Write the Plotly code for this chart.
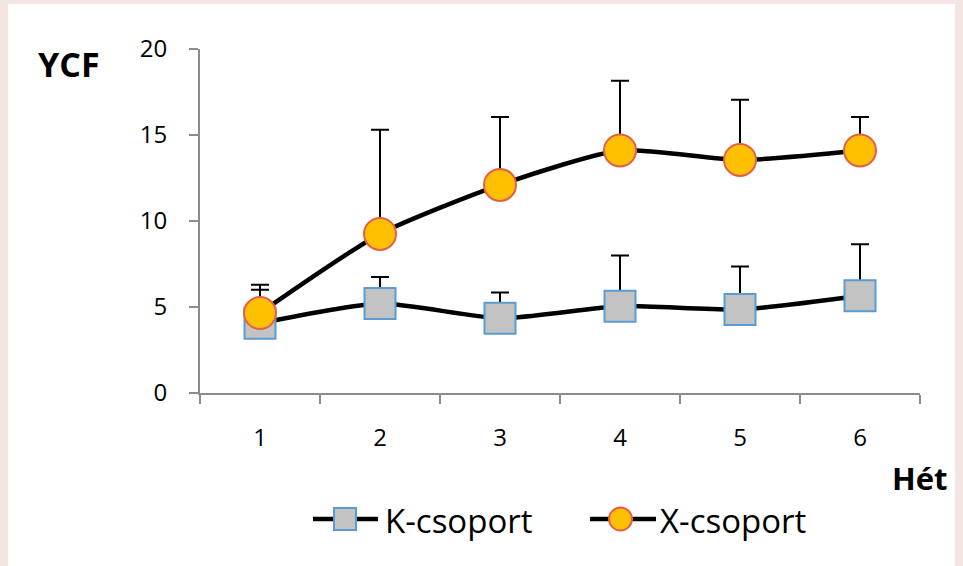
import plotly.graph_objects as go

weeks = ["1", "2", "3", "4", "5", "6"]
k_values = [4.05, 5.2, 4.35, 5.05, 4.85, 5.65]
k_err_up = [1.95, 1.55, 1.5, 2.95, 2.5, 3.0]
x_values = [4.65, 9.25, 12.1, 14.1, 13.55, 14.1]
x_err_up = [1.65, 6.05, 3.95, 4.05, 3.5, 1.95]
y_ticks = [0, 5, 10, 15, 20]
series_names = ["K-csoport", "X-csoport"]

FONT = "Open Sans"
K_FILL, K_EDGE = "#C3C3C3", "#5B9BD5"
X_FILL, X_EDGE = "#FFC000", "#E2604A"

fig = go.Figure()
fig.add_trace(go.Scatter(
    x=weeks, y=k_values, name=series_names[0], mode="lines+markers",
    line=dict(color="black", width=4.5, shape="spline", smoothing=0.6),
    marker=dict(symbol="square", size=31, color=K_FILL,
                line=dict(color=K_EDGE, width=2)),
    error_y=dict(type="data", array=k_err_up, arrayminus=[0]*6, symmetric=False,
                 color="black", thickness=2, width=9),
))
fig.add_trace(go.Scatter(
    x=weeks, y=x_values, name=series_names[1], mode="lines+markers",
    line=dict(color="black", width=4.5, shape="spline", smoothing=0.6),
    marker=dict(symbol="circle", size=32, color=X_FILL,
                line=dict(color=X_EDGE, width=2)),
    error_y=dict(type="data", array=x_err_up, arrayminus=[0]*6, symmetric=False,
                 color="black", thickness=2, width=9),
))

# paper coordinates from pixel positions (plot area: x 200..920 px, y 49..393 px)
def px_x(p):
    return (p - 200) / 720.0

def px_y(p):
    return (393 - p) / 344.0

shapes = [dict(type="rect", xref="paper", yref="paper",
               x0=px_x(8), x1=px_x(955), y0=px_y(570), y1=px_y(4),
               fillcolor="white", line=dict(width=0), layer="below")]

# custom legend
ly = 519
shapes += [
    dict(type="line", xref="paper", yref="paper", x0=px_x(313), x1=px_x(378),
         y0=px_y(ly), y1=px_y(ly), line=dict(color="black", width=4.5)),
    dict(type="rect", xref="paper", yref="paper", x0=px_x(334), x1=px_x(356),
         y0=px_y(ly + 11), y1=px_y(ly - 11), fillcolor=K_FILL,
         line=dict(color=K_EDGE, width=2)),
    dict(type="line", xref="paper", yref="paper", x0=px_x(590), x1=px_x(656),
         y0=px_y(ly), y1=px_y(ly), line=dict(color="black", width=4.5)),
    dict(type="circle", xref="paper", yref="paper", x0=px_x(609), x1=px_x(632),
         y0=px_y(ly + 11.5), y1=px_y(ly - 11.5), fillcolor=X_FILL,
         line=dict(color=X_EDGE, width=2)),
]
fig.update_layout(shapes=shapes)

for name, xpos in zip(series_names, [383, 658]):
    fig.add_annotation(text=name, xref="paper", yref="paper",
                       x=px_x(xpos), y=px_y(ly + 1), xanchor="left", yanchor="middle",
                       showarrow=False, font=dict(family=FONT, size=33, color="black"))

fig.add_annotation(text="<b>YCF</b>", xref="paper", yref="paper",
                   x=px_x(69), y=px_y(64), xanchor="center", yanchor="middle",
                   showarrow=False, font=dict(family=FONT, size=34, color="black"))
fig.add_annotation(text="<b>Hét</b>", xref="paper", yref="paper",
                   x=px_x(920), y=px_y(478), xanchor="center", yanchor="middle",
                   showarrow=False, font=dict(family=FONT, size=31, color="black"))

fig.update_layout(
    width=963, height=566,
    margin=dict(l=200, r=43, t=49, b=173),
    paper_bgcolor="#F3E6E2",
    plot_bgcolor="white",
    font=dict(family=FONT, color="black"),
    showlegend=False,
    xaxis=dict(type="category", range=[-0.5, 5.5], showgrid=False,
               showline=True, linecolor="#8C8C8C", linewidth=2,
               ticks="outside", ticklen=9, tickcolor="#8C8C8C", tickwidth=2,
               tickson="boundaries", tickfont=dict(size=24), ticklabelstandoff=22,
               zeroline=False),
    yaxis=dict(range=[0, 20], tickvals=y_ticks, showgrid=False,
               showline=True, linecolor="#8C8C8C", linewidth=2,
               ticks="outside", ticklen=9, tickcolor="#8C8C8C", tickwidth=2,
               tickfont=dict(size=24), ticklabelstandoff=17, zeroline=False),
)

fig.write_html("out.html", config={"displayModeBar": False},
               post_script="document.body.style.margin='0';document.body.style.background='#F3E6E2';")
